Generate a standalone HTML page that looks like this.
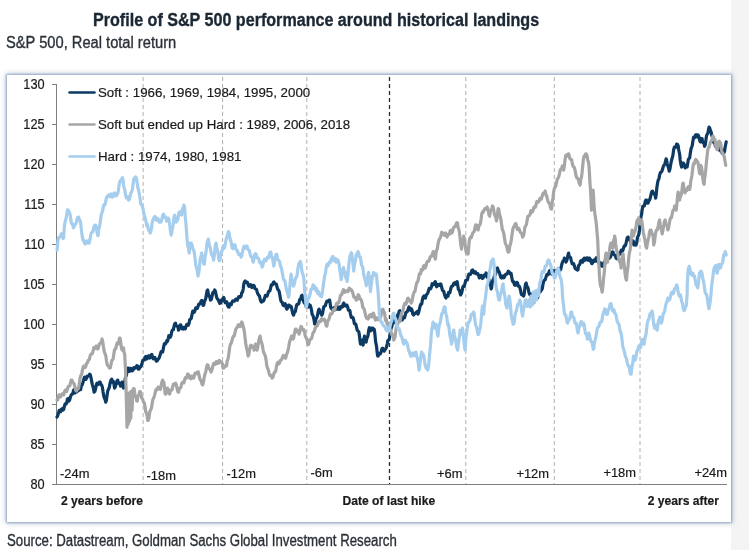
<!DOCTYPE html>
<html lang="en">
<head>
<meta charset="utf-8">
<title>Profile of S&amp;P 500 performance around historical landings</title>
<style>
html,body{margin:0;padding:0;}
body{width:749px;height:550px;position:relative;overflow:hidden;background:#fff;font-family:"Liberation Sans",sans-serif;}
.strip{position:absolute;left:731px;top:0;width:18px;height:550px;background:#f4f4f4;}
.title{position:absolute;left:93px;top:8.5px;width:447px;height:22px;white-space:nowrap;font-weight:bold;font-size:17.5px;line-height:22px;color:#1b2733;-webkit-text-stroke:0.35px #1b2733;}
.title span{display:inline-block;transform-origin:0 50%;transform:scaleX(0.92);}
.sub{position:absolute;left:6.2px;top:32.7px;white-space:nowrap;font-size:16px;line-height:20px;color:#2b3138;-webkit-text-stroke:0.35px #2b3138;}
.sub span{display:inline-block;transform-origin:0 50%;transform:scaleX(0.917);}
.src span{display:inline-block;transform-origin:0 50%;transform:scaleX(0.827);}
.src{position:absolute;left:6.5px;top:530.8px;white-space:nowrap;font-size:16px;line-height:20px;color:#2b3138;-webkit-text-stroke:0.35px #2b3138;}
.box{position:absolute;left:7.2px;top:75.4px;width:723.8px;height:446.2px;background:#fff;box-shadow:0 0 2px 1px rgba(105,130,168,0.62),0 0 6px 1px rgba(105,130,168,0.4);}
svg{position:absolute;left:0;top:0;}
#series{filter:blur(0.3px);}
svg text{font-family:"Liberation Sans",sans-serif;font-size:13.3px;fill:#1a1a1a;stroke:#1a1a1a;stroke-width:0.2px;}
#xbold text{font-size:12.1px;}
#xlab text{font-size:12.9px;}
#ylab text{font-size:14.2px;}
</style>
</head>
<body>
<div class="strip"></div>
<div class="title"><span id="t1">Profile of S&amp;P 500 performance around historical landings</span></div>
<div class="sub"><span id="t2">S&amp;P 500, Real total return</span></div>
<div class="box"></div>
<svg width="749" height="550" viewBox="0 0 749 550">
<g stroke="#b0b0b0" stroke-width="1" stroke-dasharray="4 3" fill="none">
<line x1="143.1" y1="77" x2="143.1" y2="484"/>
<line x1="222.6" y1="77" x2="222.6" y2="484"/>
<line x1="306.8" y1="77" x2="306.8" y2="484"/>
<line x1="465.8" y1="77" x2="465.8" y2="484"/>
<line x1="554.3" y1="77" x2="554.3" y2="484"/>
<line x1="640" y1="77" x2="640" y2="484"/>
</g>
<line x1="389.5" y1="77" x2="389.5" y2="484" stroke="#2a2a2a" stroke-width="1.3" stroke-dasharray="4 3"/>
<g stroke="#7f7f7f" stroke-width="1" fill="none">
<line x1="56.5" y1="84" x2="56.5" y2="485"/>
<line x1="52" y1="484.5" x2="727" y2="484.5"/>
<line x1="52" y1="84.5" x2="56.5" y2="84.5"/>
<line x1="52" y1="124.5" x2="56.5" y2="124.5"/>
<line x1="52" y1="164.5" x2="56.5" y2="164.5"/>
<line x1="52" y1="204.5" x2="56.5" y2="204.5"/>
<line x1="52" y1="244.5" x2="56.5" y2="244.5"/>
<line x1="52" y1="284.5" x2="56.5" y2="284.5"/>
<line x1="52" y1="324.5" x2="56.5" y2="324.5"/>
<line x1="52" y1="364.5" x2="56.5" y2="364.5"/>
<line x1="52" y1="404.5" x2="56.5" y2="404.5"/>
<line x1="52" y1="444.5" x2="56.5" y2="444.5"/>
<line x1="52" y1="484.5" x2="56.5" y2="484.5"/>
</g>
<g id="ylab">
<text transform="translate(44.6,89.2) scale(0.9,1)" text-anchor="end">130</text>
<text transform="translate(44.6,129.2) scale(0.9,1)" text-anchor="end">125</text>
<text transform="translate(44.6,169.2) scale(0.9,1)" text-anchor="end">120</text>
<text transform="translate(44.6,209.2) scale(0.9,1)" text-anchor="end">115</text>
<text transform="translate(44.6,249.2) scale(0.9,1)" text-anchor="end">110</text>
<text transform="translate(44.6,289.2) scale(0.9,1)" text-anchor="end">105</text>
<text transform="translate(44.6,329.2) scale(0.9,1)" text-anchor="end">100</text>
<text transform="translate(44.6,369.2) scale(0.9,1)" text-anchor="end">95</text>
<text transform="translate(44.6,409.2) scale(0.9,1)" text-anchor="end">90</text>
<text transform="translate(44.6,449.2) scale(0.9,1)" text-anchor="end">85</text>
<text transform="translate(44.6,489.2) scale(0.9,1)" text-anchor="end">80</text>
</g>
<g id="xlab">
<text x="60" y="477.5">-24m</text>
<text x="146.5" y="479.5">-18m</text>
<text x="226.5" y="477.5">-12m</text>
<text x="310.5" y="476.8">-6m</text>
<text x="462.5" y="477.5" text-anchor="end">+6m</text>
<text x="549" y="477.5" text-anchor="end">+12m</text>
<text x="636" y="476.8" text-anchor="end">+18m</text>
<text x="727" y="476.8" text-anchor="end">+24m</text>
</g>
<g id="xbold" font-weight="bold">
<text x="61" y="504.8">2 years before</text>
<text x="388.8" y="504.8" text-anchor="middle">Date of last hike</text>
<text x="719" y="504.8" text-anchor="end">2 years after</text>
</g>
<g id="series" fill="none" stroke-width="3.2" stroke-linejoin="round" stroke-linecap="round">
<path id="navy" stroke="#0d3a63" d="M57,417.1 L57.7,415.8 L58.4,413.1 L59.2,410.4 L60,411.1 L60.7,411.7 L61.4,409.1 L62.2,408.7 L63,410.1 L63.7,409.3 L64.4,406.1 L65.2,403.9 L66,404.1 L66.7,403 L67.4,399.1 L68.2,398.5 L69,401.1 L69.7,399.8 L70.4,397.1 L71.2,395 L72,394.1 L72.8,393.8 L73.6,390.1 L74.3,389.6 L74.9,393 L75.6,392.1 L76.3,390.9 L76.9,391.9 L77.6,390.1 L78.2,388.3 L78.8,390.5 L79.4,387.5 L80,389.1 L80.7,389.5 L81.3,385.8 L82,385.1 L82.8,383.2 L83.6,380.1 L84.3,377.3 L85,377.1 L85.8,379.4 L86.6,378.1 L87.3,376 L88.1,376.1 L88.9,376 L89.7,374.1 L90.4,375 L91.1,378.1 L91.8,382.2 L92.5,385.1 L93.3,387.7 L94.1,392.1 L94.9,391.3 L95.7,388.1 L96.4,384.4 L97.1,383.1 L97.9,384.5 L98.7,384.1 L99.4,382.2 L100.1,382.1 L100.9,384.5 L101.7,385.1 L102.4,387.4 L103.1,392.1 L103.8,396.1 L104.5,398.1 L105.1,399.5 L105.7,402.1 L106.4,400.3 L107.1,395.1 L107.8,390.8 L108.5,389.1 L109.3,387.5 L110.1,383.1 L110.9,380.3 L111.7,379.1 L112.4,382 L113.1,381.1 L113.8,382.9 L114.5,388.1 L115.3,386.8 L116.1,384.1 L116.9,381.1 L117.7,380.1 L118.4,383.1 L119.1,383.1 L119.8,383.1 L120.5,386.1 L121.3,385.9 L122.1,382.1 L122.8,384 L123.5,388.1 L124.1,387.3 L124.7,383.1 L125.2,378.6 L125.7,377.1 L126.4,375.1 L127.1,371.1 L127.8,368.2 L128.5,368.1 L129.3,371.3 L130.1,371.1 L130.8,368.4 L131.5,369.1 L132.3,370.8 L133.1,370.1 L133.8,367.7 L134.5,368.1 L135.3,368.2 L136.1,367 L136.8,365.6 L137.5,366 L138.3,369.2 L139.1,369.1 L139.8,366.9 L140.5,367 L141.3,365.8 L142.1,363 L142.8,360.2 L143.5,360 L144.3,360 L145.1,357 L145.8,356.5 L146.5,359 L147.3,358.6 L148.1,356 L148.8,355.8 L149.5,358 L150.3,357.7 L151.1,355 L151.8,354.4 L152.5,357 L153.3,358.8 L154.1,358 L154.8,357.4 L155.5,359 L156.3,361.2 L157.1,361 L157.8,359.4 L158.5,359 L159.3,357.6 L160.1,355 L160.4,354.1 L161.2,351.6 L162,352.1 L162.7,352 L163.4,348.1 L164.2,344.2 L165,343.1 L165.7,343.7 L166.4,342.1 L167,340.3 L167.5,341.3 L168.1,339.1 L168.8,335.7 L169.5,336.1 L170.3,337.2 L171.1,335.1 L171.8,331.3 L172.5,330.1 L173.3,329.8 L174.1,326.1 L174.8,323.7 L175.5,323.1 L176.3,325.9 L177.1,326.1 L177.8,326.3 L178.5,330.1 L179.3,328.9 L180.1,325.1 L180.8,324.9 L181.5,327.1 L182.3,329 L183.1,329.1 L183.8,327.3 L184.5,328.1 L185.3,328.9 L186.1,326.1 L186.8,324.5 L187.5,324.1 L188.3,325.2 L189.1,323.1 L189.8,319.4 L190.5,319.1 L191.3,318.3 L192.1,314.1 L192.8,311 L193.5,311.1 L194.3,312.2 L195.1,310.1 L195.8,307.8 L196.5,308.1 L197.3,308.4 L198.1,306.1 L198.8,304 L199.5,304.1 L200.3,303.2 L201.1,301.1 L201.8,300.4 L202.5,303.1 L203.1,305.4 L203.7,305.1 L204.4,301.8 L205.1,300.1 L205.8,298.3 L206.5,294 L207.1,290.8 L207.7,290 L208.4,294 L209.1,296 L209.8,297 L210.5,300.1 L211.3,299.3 L212.1,296 L212.8,292.6 L213.5,292 L214.1,292.4 L214.7,290 L215.4,291.3 L216.1,295 L216.8,297.7 L217.5,299.1 L218.3,299.7 L219.1,302.1 L219.8,303.4 L220.5,303.1 L221.1,300.3 L221.7,300.1 L222.4,300.8 L223.1,298.1 L223.8,297.5 L224.5,300.1 L225.3,302.7 L226.1,302.1 L226.8,301.9 L227.5,305.1 L228.3,307 L229.1,307.1 L229.8,303.9 L230.5,304.1 L231.3,304.6 L232.1,302.1 L232.8,300.9 L233.5,301.1 L234.3,301.2 L235.1,300.1 L235.8,299 L236.5,299.1 L237.3,300.2 L238.1,298.1 L238.8,296.6 L239.5,297 L240.3,297.2 L241.1,296 L241.8,292.6 L242.6,292 L243.2,289 L243.8,284 L244.5,281.8 L245.2,281 L245.9,282.3 L246.6,282 L247.4,282.2 L248.2,285 L248.9,286.3 L249.6,286 L250.4,284.6 L251.2,285 L251.9,287.5 L252.6,287 L253.4,285.3 L254.2,286 L254.9,288.5 L255.6,289 L256.4,289.3 L257.2,292 L257.9,294.1 L258.6,295 L259.4,296 L260.2,299.1 L260.9,301.7 L261.6,302.1 L262.4,300.8 L263.2,301.1 L263.9,300.3 L264.6,298.1 L265.4,295.3 L266.2,296 L267,296.2 L267.8,294 L268.5,291.7 L269.2,291 L269.9,290.9 L270.6,288 L271.3,284.8 L272,285 L272.7,284.6 L273.3,282.4 L274,282 L274.8,283.8 L275.6,284 L276.3,284 L277,287 L277.7,289.3 L278.4,290 L279.2,291.5 L280,296 L280.8,300.5 L281.6,302.1 L282.3,302.3 L283,305.1 L283.7,305.5 L284.4,304.1 L285.2,303.7 L286,307.1 L286.8,309.2 L287.6,308.1 L288.3,305.3 L289,305.1 L289.8,306.5 L290.6,306.1 L291.3,306.7 L292,310.1 L292.8,313.7 L293.6,315.1 L294.3,312.3 L295,312.1 L295.5,311.1 L296,308.1 L296.7,304.7 L297.4,304.1 L298.2,304.2 L299,303.1 L299.5,300.1 L300,299.1 L300.7,299.4 L301.4,296 L302.2,295.3 L303,298.1 L303.7,301.6 L304.4,303.1 L305.2,302.9 L306,306.1 L306.7,306.9 L307.4,303.9 L308.1,307.2 L308.7,304.3 L309.4,306.2 L310.1,305.1 L310.8,307 L311.5,310.1 L312.1,314.3 L312.7,315.1 L313.4,317 L314.1,320.1 L314.6,323.8 L315.1,324.1 L315.8,319.3 L316.5,318.1 L317.3,316.4 L318.1,312.1 L318.6,309.8 L319.1,309.1 L319.8,312.8 L320.5,313.1 L321.1,312.2 L321.7,315.1 L322.4,314.1 L323.1,310.1 L323.8,306.9 L324.5,306.1 L325.3,305.7 L326.1,303.1 L326.9,301.1 L327.7,301.1 L328.4,301.4 L329.1,300.1 L329.6,300.1 L330.1,303.1 L330.6,306.7 L331.1,308.1 L331.8,308.3 L332.5,310.1 L333.1,310.5 L333.7,308 L334.3,310.1 L334.9,307.5 L335.5,309.4 L336.1,308.1 L336.8,306 L337.4,309.2 L338.1,307.1 L338.8,307.2 L339.4,309.3 L340.1,309.1 L340.9,306.6 L341.7,306.1 L342.4,307 L343.1,304.1 L343.8,303 L344.5,305.1 L345.3,306.1 L346.1,305.1 L346.9,305.2 L347.7,307.1 L348.4,310.1 L349.1,310.1 L349.8,310.4 L350.5,314.1 L351.3,317.4 L352.1,317.1 L352.9,317.6 L353.7,320.1 L354.4,323.8 L355.1,324.1 L355.8,324.1 L356.5,327.1 L357.3,330.3 L358.1,331.1 L358.8,331.7 L359.5,336.1 L360,341 L360.5,344.1 L361.3,340.6 L362.1,340.1 L362.6,343.3 L363.1,345.1 L363.8,339.8 L364.5,336.1 L365.3,340.9 L366.1,342.1 L366.8,338.7 L367.5,337.1 L368.1,335.2 L368.7,330.1 L369.4,327.7 L370.1,328.1 L370.8,330.8 L371.5,330.1 L372.1,328 L372.7,328.1 L373.4,329.6 L374.1,329.1 L374.6,331.6 L375.1,336.1 L375.6,341.8 L376.1,344.1 L376.6,346.7 L377.1,352.1 L377.6,355.9 L378.1,356.1 L378.8,353.3 L379.5,354.1 L380.3,353.9 L381.1,352.1 L381.9,348.8 L382.6,348.1 L383.4,350.3 L384.2,351.1 L384.9,349.5 L385.6,349.1 L386.4,347.3 L387.2,344.1 L387.9,340.4 L388.6,340.1 L389.2,339.7 L389.8,336.1 L390.5,330.4 L391.2,328.1 L391.9,326.1 L392.6,322.1 L393.4,319.7 L394.2,320.1 L394.9,322.7 L395.6,322.1 L396.2,319 L396.9,319.4 L397.6,315.2 L398.2,314.1 L398.7,313.3 L399.2,311.1 L399.9,310.7 L400.6,312.1 L401.4,317.9 L402.2,320.1 L403,317.3 L403.8,317.1 L404.5,317.9 L405.2,315.1 L405.9,312.4 L406.6,312.1 L407.4,311.5 L408.2,309.1 L408.9,307 L409.6,308.1 L410,308.1 L410.7,310.4 L411.3,308.8 L412,310.1 L412.8,314.1 L413.6,315.1 L414.3,313.4 L415,313.1 L415.7,313.3 L416.4,312.1 L417.2,311.4 L418,314.1 L418.7,312.2 L419.4,309.1 L420.2,305.7 L421,304 L421.7,303.9 L422.4,300 L423.2,296.9 L424,296 L424.7,297.7 L425.4,298 L426.2,295.2 L427,294 L427.7,293.4 L428.4,291 L429.2,288.4 L430,289 L430.7,288.7 L431.4,287 L432.2,283.7 L433,284 L433.7,284.6 L434.4,283 L435.2,281.6 L436,284 L436.7,286.8 L437.4,286 L438.2,284.5 L439,285 L439.7,285.4 L440.4,284 L441,284.3 L441.6,287 L442.3,289.7 L443,291 L443.7,291.1 L444.4,294 L445.2,296.6 L446,298 L446.7,295.9 L447.4,295 L448,296.2 L448.5,292.7 L449.1,293 L449.8,292.9 L450.5,290 L451.3,286.8 L452.1,286 L452.8,286 L453.5,284 L454.3,282.8 L455.1,283 L455.8,284.3 L456.5,282 L457.1,281.6 L457.7,285 L458.4,289.4 L459.1,290 L459.8,291.8 L460.5,295 L461.3,293.9 L462.1,291 L462.8,287.1 L463.5,286 L464.3,286.4 L465.1,283 L465.8,280.2 L466.5,280 L467.3,280 L468.1,277 L468.8,274 L469.5,274 L470.3,274.4 L471.1,273 L471.9,270.2 L472.7,270 L473.4,272.5 L474.1,273 L474.8,271.6 L475.5,272 L476.3,273.7 L477.1,274 L477.8,273.6 L478.5,275 L479.3,277.9 L480.1,277 L480.8,275.3 L481.5,276 L482.3,278.4 L483.1,278 L483.8,275.1 L484.5,275 L485.3,275.8 L486.1,273 L486.8,273.6 L487.4,277.3 L488.1,278 L488.8,279.3 L489.4,283.7 L490.1,285 L490.6,285.3 L491.1,289 L491.6,287.8 L492.1,283 L492.8,280 L493.4,280 L494.1,277 L494.8,274 L495.4,275 L496.1,272 L496.8,268.6 L497.5,268 L498.1,270.4 L498.7,271 L499.4,272.4 L500.1,275 L500.8,277.4 L501.5,278 L502.3,276.3 L503.1,276 L503.8,277.8 L504.5,277 L505.3,274.8 L506.1,274 L506.8,274.2 L507.5,273 L508.3,271.1 L509.1,272 L509.8,273.5 L510.5,273 L511.1,273.4 L511.7,277 L512.4,280.7 L513.1,282 L513.8,281.8 L514.5,285 L515.3,285.3 L516.1,284 L516.8,282.3 L517.5,283 L518.3,286.1 L519.1,286 L519.8,287.3 L520.5,290 L521.3,294.3 L522.1,295 L522.9,294.7 L523.6,296 L524.2,294.1 L524.8,289 L525.5,284.1 L526.2,283 L526.9,286.7 L527.6,287 L528.2,288.5 L528.8,292 L529.5,294.2 L530.2,295 L530.9,294.1 L531.5,297.5 L532.2,295 L532.9,298.1 L533.5,295.9 L534.2,297 L534.9,298.6 L535.5,296.1 L536.2,297.5 L536.9,294.6 L537.5,297.8 L538.2,296 L539,291.2 L539.8,290 L540.4,291.7 L541,288.5 L541.6,290.1 L542.3,288.6 L543,284.1 L543.7,281.3 L544.4,280.1 L545.2,279.7 L546,277.1 L546.7,274.8 L547.4,274.1 L548.2,274.6 L549,272.1 L549.6,270.6 L550.2,273 L550.9,271.4 L551.5,274 L552.1,270.5 L552.8,273.4 L553.4,270.8 L554,272.1 L554.7,273.6 L555.3,270.5 L556,272.5 L556.7,270.2 L557.3,271.9 L558,270.2 L558.7,272 L559.3,269.2 L560,270.1 L560.7,269.4 L561.4,266.1 L562.2,262.9 L563,261.1 L563.7,260.6 L564.4,258.1 L565.2,259.3 L566,262.1 L566.7,260.8 L567.4,258.1 L568,254.7 L568.6,253.1 L569.3,256.8 L570,257.1 L570.7,258 L571.4,261.1 L572.2,263.7 L573,264.1 L573.7,263.7 L574.4,266.1 L575.2,268.5 L576,269.1 L576.7,269 L577.4,270.1 L578,269.7 L578.5,265.5 L579.1,265.1 L579.8,264.5 L580.5,261.1 L581.3,260.4 L582.1,262.1 L582.8,262.1 L583.5,259.1 L584.3,258.1 L585.1,260.1 L585.8,260 L586.5,258.1 L587.3,257.9 L588.1,260.1 L588.8,260.3 L589.5,258.1 L590.3,259.2 L591.1,262.1 L591.8,263.7 L592.5,263.1 L593.3,260.3 L594.1,260.1 L594.8,261.4 L595.5,259.1 L596.3,257.8 L597.1,260.1 L597.7,261.8 L598.4,260.2 L599,263 L599.6,262.4 L600.2,265.1 L600.9,262.9 L601.5,266.1 L602.1,266.1 L602.8,263.6 L603.4,266.1 L604.1,262.4 L604.8,264 L605.4,260 L606.1,261.8 L606.8,258.4 L607.4,260.5 L608.1,258.1 L608.7,256 L609.4,258.3 L610,254.1 L610.6,256.9 L611.2,253 L611.9,254.4 L612.5,251.9 L613.1,252.1 L613.8,254.5 L614.5,255.1 L615.3,255.3 L616.1,258.1 L616.9,258.7 L617.7,256.1 L618.4,254 L619.1,253.1 L619.8,254.1 L620.5,252.1 L621.3,250.1 L622.1,251.1 L622.8,250.6 L623.5,248.1 L624.3,245.8 L625.1,246 L625.8,244.3 L626.5,241 L627.3,237.5 L628.1,237 L628.8,239.1 L629.5,240 L630.1,238.6 L630.8,242.6 L631.5,240.1 L632.1,242 L632.7,243.3 L633.3,241 L633.9,245 L634.5,242.8 L635.1,244 L635.9,245.1 L636.7,243 L637.4,237.8 L638.1,236 L638.8,234.4 L639.5,230 L640.3,221.5 L641.1,216.1 L641.6,214.3 L642.1,210.1 L642.8,206.3 L643.5,206.1 L644.3,206 L645.1,202.1 L645.8,200 L646.5,200.1 L647.3,203.2 L648.1,203.1 L648.8,200.5 L649.5,200.1 L650.3,197.9 L651.1,194.1 L651.9,191.6 L652.6,191.1 L653.4,193.3 L654.2,194.1 L654.9,194.3 L655.6,198.1 L656.2,194.9 L656.8,188.1 L657.5,183.4 L658.2,180.1 L658.9,179 L659.6,175.1 L660.4,172.5 L661.2,172.1 L661.9,171.3 L662.6,169.1 L663.4,166.1 L664.2,165 L664.9,163.9 L665.6,161 L666.1,158.9 L666.6,160 L667.2,163.6 L667.8,166 L668.5,167.7 L669.2,171.1 L669.9,169.2 L670.6,165 L671.4,160.9 L672.2,158 L672.9,155.4 L673.6,150 L674.4,147.1 L675.2,147 L675.9,147.2 L676.6,144 L677.4,144.2 L678.2,146 L678.7,149.9 L679.2,152 L679.7,154.7 L680.2,160 L680.9,164.4 L681.6,167 L682.4,163.7 L683.2,163 L683.9,163.5 L684.6,166.6 L685.3,167.9 L685.9,166 L686.5,167 L687.1,166.9 L687.7,163.5 L688.4,159.3 L689.1,158.4 L689.7,157.7 L690.3,153.2 L691,148.9 L691.7,147.1 L692.3,145.3 L692.9,141.1 L693.6,137.2 L694.3,136.8 L694.9,137.5 L695.5,135 L696.1,134.6 L696.8,136.8 L697.5,137 L698.1,135 L698.8,136.3 L699.4,139.4 L700,141.4 L700.6,141.9 L701.3,138.6 L702,138.5 L702.6,141.4 L703.2,142.8 L703.9,143 L704.6,146.3 L705.2,145 L705.8,141.1 L706.5,135.8 L707.2,134.2 L707.8,133.6 L708.4,129.9 L709.1,127.1 L709.8,128.1 L710.4,130.6 L711,131.6 L711.9,135.9 L712.6,137 L713.4,141.8 L714.1,142.8 L714.8,142.9 L715.4,146.2 L716.1,145 L716.7,147.1 L717.4,148.9 L718.1,147.6 L718.8,149.8 L719.5,148 L720.2,149.7 L720.9,151.3 L721.5,149.9 L722.1,153.3 L722.8,152.3 L723.4,150.5 L723.9,152.9 L724.5,151.4 L725.3,146.3 L726.2,141.9"/>
<path id="gray" stroke="#a6a6a6" d="M57,400.1 L57.7,399.9 L58.4,396.1 L59.2,394.8 L60,397.1 L60.7,396.7 L61.4,395.1 L62.2,393.9 L63,394.1 L63.7,394.8 L64.4,392.1 L65.2,390.1 L66,391.1 L66.7,391.6 L67.4,389.1 L68.2,386.6 L69,386.1 L69.7,386 L70.4,383.1 L71.2,380.2 L72,380.1 L72.8,382.9 L73.6,383.1 L74.3,384.3 L75,387.1 L75.7,390.2 L76.4,391.1 L77.2,389 L78,389.1 L78.7,387.6 L79.4,383.1 L80.2,377.2 L81,375.1 L81.7,374.4 L82.4,370.1 L83.2,366.8 L84,366 L84.8,367.7 L85.6,367 L86.3,364.1 L87,363 L87.6,362.6 L88.1,360.4 L88.7,360 L89.4,359.2 L90.1,356 L90.9,354 L91.7,354 L92.4,353.6 L93.1,351 L93.8,347.7 L94.5,348 L95.3,348.3 L96.1,346 L96.9,346.2 L97.7,349 L98.4,347.9 L99.1,345 L99.8,343.4 L100.5,343 L101.3,342 L102.1,339 L102.8,342.2 L103.5,347 L104.3,351.7 L105.1,354 L105.8,355.6 L106.5,361 L107.3,365 L108.1,366 L108.8,366.2 L109.5,368.1 L110.3,367.8 L111.1,364 L111.8,360.4 L112.5,360 L113.1,359 L113.7,355 L114.4,350.2 L115.1,349 L115.8,348.6 L116.5,345 L117.3,342.9 L118.1,344 L118.8,342 L119.5,338 L120.1,338.1 L120.7,342 L121.4,347.8 L122.1,350 L122.8,348.2 L123.5,348 L124.1,352.6 L124.7,354 L125.5,370.1 L126.1,390.1 L126.6,410.1 L127,427.1 L127.6,395.1 L128.2,424.1 L128.8,393.1 L129.5,421.1 L130.1,392.1 L130.8,418.1 L131.4,391.1 L132.1,410.1 L132.7,392.1 L133.5,388.5 L134.1,388.8 L134.6,392.1 L135.1,395.8 L135.6,397.1 L136.2,397.2 L136.7,401 L137.3,401.1 L137.9,396.3 L138.6,395.1 L139.1,394.5 L139.7,391.5 L140.4,391.6 L141.1,395.1 L141.8,398.1 L142.6,399.1 L143.5,402.1 L144.3,402.9 L145.1,407.1 L145.8,411.9 L146.5,413.1 L147.1,415.6 L147.7,420.5 L148.4,420.1 L149.1,417.1 L149.8,411.8 L150.5,410.1 L151.3,408.6 L152.1,404.1 L152.8,399.9 L153.5,398.1 L154.3,396.5 L155.1,393.1 L155.8,390.1 L156.5,389.1 L157.3,389.6 L158.1,387.1 L158.9,387.3 L159.7,389.1 L160.4,389.4 L161.1,386.1 L161.8,382.2 L162.6,380.1 L163.2,382.9 L163.8,382.1 L164.5,387.1 L165.2,394.1 L165.9,393.9 L166.6,390.1 L167.4,388.1 L168.2,389.1 L168.9,392.8 L169.6,394.1 L170.4,390.8 L171.2,390.1 L171.9,390 L172.6,387.1 L173.4,384.2 L174.2,384.1 L174.9,384.6 L175.6,383.1 L176.4,385.3 L177.2,389.1 L177.9,391.9 L178.6,392.1 L179.4,388.3 L180.2,388.1 L180.9,387.5 L181.6,384.1 L182.4,382.4 L183.2,382.1 L183.9,382.8 L184.6,380.1 L185.4,377.6 L186.2,378.1 L186.9,377.9 L187.6,374.1 L188.4,374.3 L189.2,376.1 L190,378.1 L190.8,378.7 L191.6,376.1 L192.3,376.5 L193,378.1 L193.7,378 L194.4,375.1 L195.2,373.2 L196,373.1 L196.8,373.5 L197.6,372.1 L198.3,371.9 L199,375.1 L199.7,378.3 L200.4,380.1 L201.2,380.8 L202,384.1 L202.7,384.8 L203.4,382.1 L204.2,377.2 L205,374.1 L205.7,371.9 L206.4,368.1 L207.2,364.9 L208,365.1 L208.7,368.2 L209.4,369.1 L210.2,369.1 L211,372.1 L211.7,370.7 L212.4,368.1 L213.2,364.5 L214,363.1 L214.8,364.4 L215.6,364.1 L216.3,361.6 L217,362.1 L217.8,363.3 L218.6,363.1 L219.3,360.3 L220,361.1 L220.8,362.2 L221.6,362.1 L222.3,363.6 L223,368.1 L223.7,368.2 L224.4,367.1 L225.2,365.7 L226,366.1 L226.6,365.8 L227.1,361.3 L227.7,360.1 L228.4,356.9 L229.1,352.1 L229.8,346.6 L230.5,344.1 L231.3,343.2 L232.1,340.1 L232.8,337.5 L233.5,336.1 L234.3,336 L235.1,332.1 L235.8,329.3 L236.5,328.1 L237.3,327.2 L238.1,325.1 L238.8,324.6 L239.5,326.1 L240.3,326.5 L241.1,324.1 L241.8,322 L242.5,323.1 L243.1,326.3 L243.7,328.1 L244.4,332.1 L245.1,338.1 L245.8,343.7 L246.5,348.1 L247.3,350.9 L248.1,356.1 L248.8,354.7 L249.5,350.1 L250.3,346 L251.1,345.1 L251.8,347.4 L252.5,346.1 L253.3,346.5 L254.1,350.1 L254.8,348.8 L255.5,344.1 L256.3,345.6 L257.1,350.1 L257.8,347.3 L258.5,342.1 L259.3,338.2 L260.1,336.1 L260.8,340.5 L261.5,342.1 L262.3,345.1 L263.1,350.1 L263.8,352.8 L264.5,354.1 L265.3,355.9 L266.1,360.1 L266.8,365.8 L267.5,368.1 L268.3,369.9 L269.1,373.1 L269.8,375.4 L270.5,375.1 L271.3,375.5 L272.1,378.1 L272.9,377.4 L273.7,374.1 L274.4,372.3 L275.1,372.1 L275.8,370.9 L276.5,366.1 L277.3,363.2 L278.1,362.1 L278.8,364 L279.5,363.1 L280.3,360.5 L281.1,360.1 L281.8,359.2 L282.5,357.1 L283.3,355.3 L284.1,356.1 L284.9,357.9 L285.7,358.1 L286.4,355 L287.1,353.1 L287.8,351.2 L288.5,348.1 L289.3,343.3 L290.1,340.1 L290.8,338.8 L291.5,336.1 L292.3,336.2 L293.1,339.1 L293.8,337.3 L294.5,333.1 L295.3,329.2 L296.1,329.1 L296.8,331.9 L297.5,331.1 L298.3,330.7 L299.1,334.1 L299.8,332 L300.5,328.1 L301.1,326.4 L301.7,327.1 L302.4,329.5 L303.2,330.1 L303.9,329.7 L304.6,332.1 L305.4,336.5 L306.2,338.1 L307,339.5 L307.8,344.1 L308.5,344.6 L309.2,342.1 L309.9,339.7 L310.6,339.1 L311.4,338.7 L312.2,336.1 L313,332.8 L313.8,332.1 L314.5,330.7 L315.2,328.1 L315.9,326.5 L316.6,326.1 L317.4,325.7 L318.2,323.1 L318.9,321.4 L319.6,321.1 L320.4,321.6 L321.2,319.1 L321.9,318.7 L322.6,320.1 L323.4,320.3 L324.2,319.1 L324.9,320.3 L325.6,323.1 L326.2,325.5 L326.8,326.1 L327.5,322.2 L328.2,320.1 L329,319.3 L329.8,316 L330.5,313.8 L331.2,314 L331.9,314 L332.6,312 L333.4,309.6 L334.2,310 L334.9,309.4 L335.6,307 L336.4,303.7 L337.2,304 L338.1,302.1 L338.9,302.5 L339.7,299.1 L340.4,295.5 L341.1,295 L341.8,294.6 L342.5,292 L343.3,289.7 L344.1,290 L344.8,292.3 L345.5,292 L346.3,290.9 L347.1,291 L347.8,291.6 L348.5,290 L349.3,288.2 L350.1,289 L350.8,290.3 L351.5,290 L352.3,291.3 L353.1,294 L353.8,297.1 L354.5,297 L355.3,297.5 L356.1,300.1 L356.8,299.8 L357.5,297 L358.3,294.7 L359.1,296 L359.8,298.9 L360.5,299.1 L361.3,300.1 L362.1,303.1 L362.8,307.5 L363.5,308.1 L364.3,309.5 L365.1,313.1 L365.8,316.2 L366.5,318.1 L367.3,317.1 L368.1,319.1 L368.8,317.8 L369.5,315.1 L370.3,314.6 L371.1,316.1 L371.8,316.8 L372.5,314.1 L373.3,313.1 L374.1,315.1 L374.8,318.2 L375.5,320.1 L376.3,317.9 L377.1,318.1 L377.8,319.7 L378.5,319.1 L379.3,317.4 L380.1,318.1 L380.8,316.4 L381.5,313.1 L382.1,309.7 L382.8,309.1 L383.5,311.3 L384.2,312.1 L384.7,314.2 L385.2,318.1 L385.8,320.8 L386.4,319.5 L387,323.6 L387.6,322.9 L388.2,326.1 L388.9,328.3 L389.5,327.4 L390.2,331.2 L390.9,330.2 L391.5,334.3 L392.2,334.1 L393,336 L393.8,340.1 L394.5,338.8 L395.2,336.1 L395.7,331.4 L396.2,328.1 L396.9,326.8 L397.6,324.1 L398.4,321.4 L399.2,322.1 L399.9,321.5 L400.6,318.1 L401.4,313.3 L402.2,312.1 L403,310.6 L403.8,306.1 L404.5,304 L405.2,303.1 L406,304 L406.8,302.1 L407.5,298.5 L408.2,298.1 L409,300.6 L409.8,300.1 L410.5,300.4 L411.2,303.1 L411.9,301.6 L412.6,298.1 L413.4,293.9 L414.2,292 L414.9,291.6 L415.6,288 L416.4,284.1 L417.2,282 L417.9,281.3 L418.6,278 L419.3,274.3 L420,273.1 L420.7,273.9 L421.3,269.5 L422,270.1 L422.8,269.9 L423.6,266.1 L424.3,265.4 L425,268.1 L425.7,267.1 L426.4,264.1 L427.2,261.7 L428,261.1 L428.8,261.3 L429.6,259.1 L430.3,256.7 L431,256.1 L431.7,256.2 L432.4,254.1 L433.2,251.6 L434,252.1 L434.7,257.4 L435.4,259.1 L436,253.3 L436.6,250.1 L437.3,248.8 L438,244.1 L438.7,240.9 L439.4,239.1 L440.2,238.1 L441,235.1 L441.7,232.2 L442.4,233.1 L443.2,234.9 L444,235.1 L444.8,233 L445.6,233.1 L446.3,235.8 L447,237.1 L447.8,234.9 L448.5,234.1 L449.3,234.4 L450.1,231.1 L450.8,230.2 L451.5,233.1 L452.3,232.5 L453.1,229.1 L453.8,227.3 L454.5,227 L455.3,226.5 L456.1,224 L456.8,222.6 L457.5,223 L458.1,227.5 L458.7,229.1 L459.4,232.1 L460.1,238.1 L460.8,244.8 L461.5,249.1 L462.1,244.3 L462.7,242.1 L463.2,239.8 L463.7,236.1 L464.4,238.8 L465.1,244.1 L465.8,250.4 L466.5,253.1 L467.3,252 L468.1,254.1 L468.6,248.8 L469.1,242.1 L469.8,238.3 L470.5,237.1 L471.3,237.6 L472.1,235.1 L472.8,232.7 L473.5,232.1 L474.3,231.3 L475.1,227 L475.8,224.8 L476.5,225 L477.3,229.1 L478.1,230.1 L478.8,226.4 L479.5,225 L480.3,223.9 L481.1,219 L481.8,213.9 L482.5,212 L483.3,212.3 L484.1,210 L484.8,208.7 L485.5,209 L486.3,209.2 L487.1,207 L487.8,208.9 L488.5,212 L489.1,215.4 L489.7,216 L490.4,211.3 L491.1,210 L491.8,208.8 L492.5,206 L493.1,206.8 L493.7,210 L494.4,214.2 L495.1,216 L495.8,217.4 L496.5,221 L497.1,218 L497.7,212 L498.2,208.7 L498.7,209 L499.4,214 L500.1,216 L500.8,218.8 L501.5,224 L502.3,229.4 L503.1,231.1 L503.8,233.6 L504.5,238.1 L505.3,243.2 L506.1,245.1 L506.8,246.2 L507.5,250.1 L508.3,252.2 L509.1,251.1 L509.8,245.9 L510.5,244.1 L511.3,240 L512.1,234.1 L512.8,229.2 L513.5,227 L514.3,226.6 L515.1,224 L515.8,223.5 L516.5,226 L517.3,229.4 L518.1,229.1 L518.8,228.2 L519.5,230.1 L520.3,232.2 L521.1,233.1 L521.9,233.9 L522.6,237.1 L523.4,236.1 L524.2,232.1 L524.9,227.3 L525.6,226 L526.4,224.4 L527.2,220 L527.9,216.3 L528.6,216 L529.4,215.6 L530.2,214 L530.9,210.7 L531.6,211 L532.4,212 L533.2,210 L533.9,207.1 L534.6,207 L535.4,207.3 L536.2,204 L536.9,201.3 L537.6,202 L538.4,202.2 L539.2,201 L539.9,198.3 L540.6,199 L541.4,199.1 L542.2,196 L542.9,193.7 L543.6,193 L544.4,193.6 L545.2,191 L546,195.1 L546.7,195.8 L547.4,199.1 L548.2,201.9 L549,203.1 L549.7,203.5 L550.4,207.1 L551,208.9 L551.6,209.1 L552.1,203.2 L552.6,200.1 L553.1,197.2 L553.6,192.1 L554.3,188.7 L555,187.1 L555.7,186.4 L556.4,183.1 L557.2,179.4 L558,178.1 L558.7,176.9 L559.4,174.1 L560.2,169.7 L561,169.1 L561.7,168.2 L562.4,166 L563,167.5 L563.6,170.1 L564.3,166.3 L565,160 L565.7,155.8 L566.4,155 L567.2,155.9 L568,154 L568.7,153.9 L569.4,157 L570.2,159.2 L571,159 L571.7,160 L572.4,164 L573.2,166.5 L574,167 L574.7,168.6 L575.4,172.1 L576.2,176.3 L577,178.1 L577.8,178.5 L578.5,180.1 L579.3,183.3 L580.1,185.1 L580.8,179.5 L581.5,177.1 L582.1,172.4 L582.7,166 L583.4,159.4 L584.1,156 L584.8,156.6 L585.5,154 L586.3,153.9 L587.1,156 L587.8,160.5 L588.5,162 L589,166.4 L589.5,174.1 L590,183.8 L590.5,190.1 L591,199.4 L591.5,210.1 L592,205.9 L592.5,200.1 L593.1,190.1 L593.6,197 L594.1,206.1 L594.8,213.2 L595.5,218 L596.1,222 L596.7,228 L597.2,234.6 L597.7,240 L598.5,260.1 L599,266.8 L599.5,276.1 L600.1,283 L600.7,286.1 L601.4,288 L602.1,292.1 L602.6,289.4 L603.1,284.1 L603.6,278 L604.1,274.1 L604.6,268.3 L605.1,260.1 L605.6,254.9 L606.1,253.1 L606.8,258.6 L607.5,262.1 L608.1,256.7 L608.7,254.1 L609.4,251.3 L610.1,246 L610.8,243.2 L611.5,243 L612.1,247.3 L612.7,248.1 L613.2,243.4 L613.7,240 L614.2,239.7 L614.7,236 L615.2,239 L615.7,244 L616.4,249.5 L617.1,252.1 L617.8,253.5 L618.5,258.1 L619.3,261.5 L620.1,262.1 L620.6,264 L621.1,268.1 L621.6,264.8 L622.1,258.1 L622.6,255.4 L623.1,254.1 L623.6,260.5 L624.1,264.1 L624.6,268 L625.1,274.1 L625.8,278.4 L626.5,280.1 L627,273.4 L627.5,270.1 L628.1,265.7 L628.7,258.1 L629.4,252.7 L630.1,250.1 L630.6,246 L631.1,240 L631.6,234.1 L632.1,230 L632.8,234.2 L633.5,236 L634.1,233.1 L634.7,232 L635.4,229.9 L636.1,226 L636.8,221.2 L637.5,220 L638.1,219.7 L638.7,218 L639.4,219.3 L640.1,224 L640.8,223.1 L641.5,220 L642.1,222.9 L642.7,228 L643.4,233 L644.1,236 L644.8,239.3 L645.5,244 L646.1,247.2 L646.7,248.1 L647.4,243.3 L648.1,240 L648.8,237.2 L649.5,232 L650.3,230 L651.1,230 L651.9,233.8 L652.6,234 L653.2,237.7 L653.8,245 L654.5,241.7 L655.2,236 L655.9,231.6 L656.6,230 L657.4,229.8 L658.2,226 L658.9,222 L659.6,220 L660.2,224.7 L660.8,228 L661.5,230.1 L662.2,234 L662.9,230.8 L663.6,226 L664.4,221.5 L665.2,220 L665.9,223.6 L666.6,225 L667.2,226.5 L667.8,230 L668.5,228.6 L669.2,224 L669.9,220.1 L670.6,218 L671.4,217.6 L672.2,214 L672.9,210.6 L673.6,210 L674.1,209.2 L674.6,206.1 L675.4,206.4 L676.2,210.1 L676.7,206.1 L677.2,200.1 L677.7,194.4 L678.2,192.1 L678.9,197.9 L679.6,200.1 L680.2,196.9 L680.8,196.1 L681.5,193.6 L682.2,188.1 L682.7,183.8 L683.2,183.1 L683.9,187.7 L684.5,191.9 L685.1,192.9 L685.8,189.6 L686.5,189.4 L687.1,190.3 L687.7,187.7 L688.4,186.7 L689.1,189.4 L689.7,189.3 L690.3,186 L690.8,180.7 L691.3,179.1 L691.9,175.7 L692.5,170.4 L693.1,165.6 L693.7,163.5 L694.4,163.7 L695.1,160.9 L695.7,159.4 L696.3,160.1 L697,162 L697.7,161.8 L698.3,164.4 L698.9,168.7 L699.5,173.1 L700,173.9 L700.8,165.3 L701.4,166.8 L702,170.4 L702.9,179.1 L703.5,182.9 L704.1,184.3 L704.6,178.2 L705.1,175.6 L705.7,170.4 L706.3,163.5 L707.2,154.9 L707.8,149.6 L708.4,148 L709.1,147 L709.8,144.5 L710.4,142.2 L711,141.1 L711.7,140.4 L712.4,137.6 L713,136.2 L713.6,136.8 L714.3,139.9 L715,139.4 L715.8,146.3 L716.5,146.3 L717.1,149.7 L717.6,148.7 L718.1,144.5 L718.7,141.6 L719.3,141.1 L719.9,143.2 L720.5,142.8 L721,145.4 L721.5,149.7 L722.1,153.1 L722.8,153.2 L723.6,154.9 L724.2,156.4 L724.8,160.1 L725.7,165.3"/>
<path id="blue" stroke="#a5cdee" d="M57,250.1 L57.5,246 L58,240.1 L58.8,237.3 L59.6,237.1 L60.3,236.7 L61,234.1 L61.7,233.7 L62.4,236.1 L63,238.5 L63.6,238.1 L64.4,226.1 L65,222.4 L65.6,220.1 L66.3,217.2 L67,213.1 L67.5,209.9 L68,210.1 L68.7,212 L69.4,212.1 L70,214.2 L70.6,218.1 L71.3,223 L72,224.1 L72.7,223.9 L73.3,227.8 L74,227.1 L74.8,224.4 L75.6,224.1 L76.3,223 L77,219.1 L77.8,217.3 L78.6,217.1 L79.3,220 L80,220.1 L80.7,223.4 L81.4,230.1 L82.2,236.4 L83,240.1 L83.7,240 L84.4,243.1 L85.2,244.1 L86,242.1 L86.6,241.1 L87.1,243 L87.7,241.1 L88.4,240.7 L89.1,243.1 L89.9,240.1 L90.7,235.1 L91.4,233 L92.1,232.1 L92.9,231.8 L93.7,228.1 L94.3,225.9 L94.9,227.6 L95.5,225.1 L96.1,225.9 L96.7,230.1 L97.4,234.4 L98.1,235.7 L98.6,230.1 L99.1,228.1 L99.8,225.2 L100.5,220.1 L101.3,214.5 L102.1,212.1 L102.6,211.3 L103.1,208.1 L103.8,204.8 L104.5,205.1 L105.3,203.8 L106.1,199.1 L106.9,196.9 L107.7,196 L108.3,196.6 L108.9,194.9 L109.5,195.6 L110.3,196.7 L111.1,194 L111.8,194.3 L112.5,197 L113.3,196.4 L114.1,193 L114.9,193 L115.7,195 L116.3,195.9 L116.9,193.3 L117.5,194 L118.1,192 L118.7,188 L119.4,183.2 L120.1,181 L120.9,181.3 L121.7,179 L122.4,177.7 L123.1,180 L123.6,185.5 L124.1,188 L124.8,189.7 L125.5,195 L126.3,197.7 L127.1,197 L127.8,196.7 L128.5,200.1 L129.3,199.5 L130.1,196 L130.8,193.2 L131.5,192 L132.3,189.7 L133.1,184 L133.8,179.1 L134.5,178 L135.1,179.3 L135.7,177 L136.4,178.2 L137.1,182 L137.8,187.5 L138.5,190 L139.3,193.7 L140.1,199.1 L140.8,203.8 L141.5,205.1 L142.3,205.8 L143.1,209.1 L143.8,213.5 L144.5,216.1 L145.3,218.4 L146.1,222.1 L146.8,225.8 L147.4,224.2 L148.1,228.1 L148.8,230.5 L149.4,229.8 L150.1,233.1 L150.8,231.7 L151.5,228.1 L152.1,223.3 L152.7,220.1 L153.4,219.6 L154.1,217.1 L154.9,216.5 L155.7,219.1 L156.4,220.3 L157.1,218.1 L157.9,218.5 L158.7,220.1 L159.3,222.2 L159.9,220.8 L160.5,222.1 L161.3,221.6 L162.1,218.1 L162.8,215.1 L163.6,214.1 L164.4,217.3 L165.2,217.1 L165.9,217.2 L166.6,221.1 L167.4,220.8 L168.2,218.1 L168.9,219.2 L169.6,224.1 L170.4,230.6 L171.2,235.1 L171.9,230.9 L172.6,228.1 L173.2,224.5 L173.8,218.1 L174.3,216 L174.8,215.1 L175.5,219.4 L176.2,222.1 L176.9,220 L177.6,220.1 L178.2,218 L178.8,213.1 L179.5,211.8 L180.2,212.1 L180.9,214.2 L181.6,215.1 L182.2,209.9 L182.8,208.1 L183.3,207.6 L183.8,205.1 L184.3,205.8 L184.8,210.1 L185.3,217.9 L185.8,222.1 L186.3,228 L186.8,236.1 L187.3,242.3 L187.8,246.1 L188.5,248.3 L189.2,253.1 L190,243.1 L190.7,245.2 L191.3,243.1 L192,245.1 L192.8,248.9 L193.6,250.1 L194.3,252.7 L195,258.1 L195.8,264.9 L196.6,268.1 L197.3,270.9 L198,276.1 L198.7,273.2 L199.4,268.1 L199.9,261.6 L200.4,258.1 L201,256.5 L201.6,253.1 L202.3,255.6 L203,260.1 L203.7,264 L204.4,264.1 L205,257.8 L205.6,254.1 L206.3,249.9 L207,243.1 L207.7,240.5 L208.4,239.1 L209,243.7 L209.6,246.1 L210.3,247.8 L211,252.1 L211.7,254.7 L212.4,256.1 L213,256.7 L213.6,260.1 L214.3,255.5 L215,248.1 L215.5,245 L216,243.1 L216.7,248 L217.4,250.1 L218,252.9 L218.6,258.1 L219.3,260.6 L220,260.1 L220.7,255.1 L221.4,252.1 L222.2,250.6 L223,246.1 L223.7,245.5 L224.4,248.1 L225.2,244.7 L226,240.1 L226.6,237.4 L227.1,237.5 L227.7,234 L228.4,231.6 L229.1,233 L229.8,237.5 L230.5,240.1 L231.3,242.9 L232.1,248.1 L232.9,248.5 L233.7,246.1 L234.4,244.6 L235.1,245.1 L235.8,248.7 L236.5,250.1 L237.3,250.6 L238.1,253.1 L238.8,254.7 L239.5,254.1 L240.3,254.2 L241.1,257.1 L241.8,255.6 L242.5,252.1 L243.3,248 L244.1,246.1 L244.9,248.2 L245.7,247.1 L246.4,246 L247.1,246.1 L247.9,249.4 L248.7,250.1 L249.4,250.6 L250.1,254.1 L250.9,256.6 L251.7,257.1 L252.4,258.7 L253.1,262.1 L253.8,260.2 L254.5,255.1 L255.3,253.7 L256.1,254.1 L256.8,256.9 L257.5,258.1 L258.3,258 L259.1,260.1 L259.8,262.6 L260.5,262.1 L261.3,263.9 L262.1,267.1 L262.8,265.6 L263.5,262.1 L264.3,259.6 L265.1,259.1 L265.9,260.8 L266.7,259.1 L267.4,257.4 L268.1,258.1 L268.8,257.8 L269.5,254.1 L270.1,252.3 L270.7,252.1 L271.4,255.6 L272.1,257.1 L272.9,260.2 L273.7,266.1 L274.4,263.8 L275.1,258.1 L275.9,254.9 L276.7,254.1 L277.4,258 L278.1,260.1 L278.9,260.4 L279.7,262.1 L280.4,265.9 L281.1,267.1 L281.8,269.8 L282.5,274.1 L283.3,278.7 L284.1,280.1 L284.8,280.4 L285.5,284.1 L286.3,288.9 L287.1,292.1 L287.8,293.7 L288.5,297.1 L289.1,294.2 L289.7,288.1 L290.4,279.7 L291.1,274.1 L291.6,278.7 L292.1,280.1 L292.8,282.1 L293.5,286.1 L294.3,283.8 L295.1,280.1 L295.8,277.6 L296.5,277.1 L297.1,275.2 L297.7,270.1 L298.4,265.7 L299.1,263.1 L299.7,263.3 L300.3,261.5 L300.9,263.7 L301.5,268.1 L302.1,272.2 L302.8,274.1 L303.4,276 L304,280.1 L304.5,288.9 L305,294.1 L305.6,300.1 L306.2,307.7 L306.8,305.5 L307.4,302.1 L308,298.3 L308.7,298.1 L309.4,297.3 L310.2,293.1 L311,289.2 L311.8,289.1 L312.4,289 L313,284.9 L313.6,285.5 L314.2,288.3 L314.8,286.6 L315.4,288.5 L316,290.9 L316.6,288.6 L317.2,291.1 L317.9,293.6 L318.7,291.8 L319.4,294.1 L320.1,295.9 L320.9,294.8 L321.6,296.7 L322.4,292.3 L323.2,286.1 L324,279.9 L324.8,275.1 L325.4,273.5 L326,269.1 L326.6,265.6 L327.2,264.1 L327.9,265.9 L328.6,264.5 L329.2,262.5 L329.8,261.7 L330.5,262.2 L331.2,259.1 L332.1,257.5 L332.8,256.5 L333.4,258.5 L334,260.8 L334.6,259.5 L335.2,258.3 L335.8,260.7 L336.3,262.2 L336.8,260.1 L337.6,259.6 L338.4,261.7 L339.1,264 L339.6,268.6 L340.1,272 L340.6,274.2 L341.1,279.6 L341.7,277.1 L342.3,273 L342.9,269.3 L343.5,267.6 L344.1,271.5 L344.7,271.3 L345.3,275 L345.9,278.3 L346.5,277.4 L347.1,281.4 L347.8,276.1 L348.5,268 L349.3,260.8 L350.1,255.6 L350.7,255.9 L351.3,252.7 L351.9,253.8 L352.4,259.6 L352.9,263 L353.7,271.2 L354.3,265.5 L354.9,263 L355.5,260.3 L356.1,255.6 L356.7,254 L357.3,255.4 L357.9,251.7 L358.5,252.6 L359.1,255.6 L359.7,257 L360.3,257.1 L360.9,260.4 L361.5,265 L362.1,266 L362.7,267 L363.3,271.2 L364.1,276.8 L364.9,279 L365.6,281.7 L366.3,285.6 L366.9,283.7 L367.5,279 L368.1,274 L368.7,272.4 L369.2,277.8 L369.7,282 L370.5,291.6 L371,286.4 L371.5,283 L372.4,276 L373,275.9 L373.5,272.7 L374.1,273 L374.7,274.8 L375.3,274.4 L376,274 L376.6,276 L377.2,283.6 L377.8,288 L378.4,296.5 L379,306.1 L379.5,316.1 L380.3,319.7 L381.1,322.1 L381.9,322.4 L382.6,324.1 L383.4,325.8 L384.2,326.1 L385,326.9 L385.8,329.1 L386.5,330.5 L387.2,328.1 L387.9,327.9 L388.6,331.1 L389.2,330.3 L389.8,328.1 L390.5,323.9 L391.2,322.1 L391.9,320.1 L392.6,316.1 L393.2,313.6 L393.8,313.1 L394.5,316.6 L395.2,318.1 L395.9,319.7 L396.6,324.1 L397.4,327.5 L398.2,328.1 L399,328.6 L399.8,331.1 L400.5,334.4 L401.2,336.1 L401.9,337.1 L402.6,340.1 L403.2,342.8 L403.8,344.1 L404.5,340.8 L405.2,340.1 L405.9,342.6 L406.6,342.1 L407.4,344 L408.2,348.1 L408.8,350.8 L409.4,351.3 L410,354.1 L410.8,356.2 L411.6,356.1 L412.3,353.2 L413,353.1 L413.7,355.7 L414.4,355.1 L415.2,352.5 L416,352.1 L416.7,356.7 L417.4,358.1 L418.2,362.7 L419,370.1 L419.7,366.2 L420.4,360.1 L421,355 L421.6,352.1 L422.3,354.3 L423,354.1 L423.7,355.6 L424.4,360.1 L425.2,365.2 L426,368.1 L426.8,367.6 L427.6,370.1 L428.3,367.3 L429,362.1 L429.5,355.2 L430,350.1 L430.5,345.4 L431,338.1 L431.5,331.6 L432,328.1 L432.5,325.8 L433,322.1 L433.7,324 L434.4,328.1 L435,327.2 L435.6,324.1 L436.3,325.4 L437,330.1 L437.5,334.9 L438,336.1 L438.7,329 L439.4,324.1 L440.2,322.9 L441,318.1 L441.7,314 L442.4,313.1 L443,312 L443.6,309.1 L444.3,306.9 L445,307 L445.5,311.3 L446,314.1 L446.7,316.4 L447.4,322.1 L448,325.6 L448.5,324.3 L449.1,328.1 L449.6,333.7 L450.1,336.1 L450.8,338.6 L451.5,344.1 L452.1,341.6 L452.7,336.1 L453.2,331.8 L453.7,330.1 L454.4,334.8 L455.1,338.1 L455.8,340.7 L456.5,346.1 L457.1,348.7 L457.7,350.1 L458.4,343.3 L459.1,338.1 L459.6,335.7 L460.1,330.1 L460.8,331.5 L461.5,334.1 L462,331.8 L462.5,328.1 L463.1,332.4 L463.7,338.1 L464.4,345.8 L465.1,350.1 L465.6,342.3 L466.1,336.1 L466.8,331.7 L467.5,326.1 L468.3,322.4 L469.1,322.1 L469.8,320.8 L470.5,318.1 L471.3,314.4 L472.1,314.1 L472.8,314.6 L473.5,312.1 L474.1,313.4 L474.7,318.1 L475.4,323.9 L476.1,326.1 L476.8,327.8 L477.5,332.1 L478.1,334.7 L478.7,334.1 L479.4,330.5 L480.1,328.1 L480.8,323.7 L481.5,316.1 L482,309.8 L482.5,306 L483.1,311.6 L483.7,314.1 L484.2,307.3 L484.7,302 L485.4,298.6 L486.1,292 L486.8,286.2 L487.5,284 L488.1,281.7 L488.7,278 L489.2,273 L489.7,270 L490.2,268.8 L490.7,265 L491.2,261.3 L491.7,261 L492.3,260.9 L492.9,259 L493.4,260.2 L493.9,263 L494.7,272 L495.5,282 L496.1,286.9 L496.7,290 L497.4,291.6 L498.1,296 L498.8,299.6 L499.5,300 L500.1,295.9 L500.7,294 L501.4,292.1 L502.1,288 L502.6,284.9 L503.1,284 L503.8,290 L504.5,294 L505.1,297.9 L505.7,304 L506.4,306.7 L507.1,308.1 L507.6,302.8 L508.1,300 L508.6,299.9 L509.1,296 L509.8,299.9 L510.5,306 L511.1,313.6 L511.7,318.1 L512.4,320.3 L513.1,324.1 L513.8,323.6 L514.5,320.1 L515.1,314.5 L515.7,312.1 L516.4,311 L517.1,307 L517.8,304.2 L518.5,304 L519.1,303.2 L519.7,300 L520.4,301.6 L521.1,306 L521.9,312.8 L522.6,316.1 L523.2,311.3 L523.8,308.1 L524.5,304.7 L525.2,300 L525.9,299.9 L526.6,303 L527.2,306.3 L527.8,306 L528.5,301.7 L529.2,300 L529.7,304.7 L530.2,307 L530.7,300 L531.2,296 L531.7,301.3 L532.2,305 L532.8,297.6 L533.4,292 L533.9,298.3 L534.4,303 L534.9,295.7 L535.4,291 L535.9,296.5 L536.4,300 L537,294.1 L537.6,290 L538.4,296 L538.9,292.5 L539.4,286 L540,281.7 L540.6,281 L541.1,278.5 L541.6,274.1 L542.3,271.6 L543,272.1 L543.7,272.2 L544.4,270.1 L545.2,266.4 L546,266.1 L546.7,265.4 L547.4,262.1 L548.2,260.2 L549,260.1 L549.7,263 L550.4,264.1 L551,266.5 L551.6,270.1 L552.3,273.3 L553,274.1 L553.7,275 L554.4,278.1 L555,277.9 L555.6,276.1 L556.3,272.1 L557,270.1 L557.5,270.1 L558,268.1 L558.7,269.5 L559.4,274.1 L560,276.9 L560.6,278.1 L561.3,280.2 L562,286.1 L562.5,295.3 L563,302 L563.5,304.6 L564,310 L564.5,313.7 L565,315 L565.7,314.9 L566.4,318.1 L567,322.3 L567.6,323.1 L568.3,320.3 L569,320.1 L569.7,318.8 L570.4,315 L571,312 L571.6,312 L572.3,316.2 L573,317 L573.7,317.4 L574.4,320.1 L575,323.1 L575.6,323.1 L576.3,323.3 L577,327.1 L577.5,331.3 L578.1,333.1 L578.8,328.7 L579.5,326.1 L580.1,325 L580.7,322.1 L581.4,321.6 L582.1,324.1 L582.8,325.1 L583.5,323.1 L584.1,324.3 L584.7,329.1 L585.4,333.3 L586.1,334.1 L586.8,335.7 L587.5,339.1 L588.1,336.9 L588.7,333.1 L589.4,334.7 L590.1,338.1 L590.8,340.9 L591.5,342.1 L592.1,342.6 L592.7,346.1 L593.2,349.3 L593.7,349.1 L594.4,342.8 L595.1,340.1 L595.8,337.5 L596.5,333.1 L597.3,328.4 L598.1,327.1 L598.8,326.6 L599.5,324.1 L600.3,322 L601.1,322.1 L601.8,321.1 L602.5,317 L603.1,313.8 L603.7,312 L604.2,311.2 L604.7,309 L605.4,309.3 L606.1,313 L606.8,314.5 L607.5,314 L608.1,310.5 L608.7,309 L609.4,307.8 L610.1,304 L610.8,303.5 L611.5,306 L612.1,309.1 L612.7,311 L613.4,309.5 L614.1,310 L614.8,313.2 L615.5,314 L616.1,315.3 L616.7,319.1 L617.4,321.9 L618.1,323.1 L618.8,323.8 L619.5,327.1 L620.1,331.4 L620.7,332.1 L621.4,335 L622.1,340.1 L622.6,345.4 L623.1,348.1 L623.8,349.4 L624.5,352.1 L625.1,355.5 L625.7,357.1 L626.4,358.1 L627.1,362.1 L627.8,364.8 L628.5,366.1 L629.1,366.4 L629.7,370.1 L630.4,373.9 L631.1,374.1 L631.6,369.4 L632.1,366.1 L632.8,362.9 L633.5,356.1 L634.1,357 L634.7,360.1 L635.4,359.7 L636.1,356.1 L636.8,351.5 L637.5,350.1 L638.1,349.1 L638.7,346.1 L639.4,345.6 L640.1,348.1 L640.8,346.5 L641.5,342.1 L642.1,339.5 L642.7,340.1 L643.4,343 L644.1,344.1 L644.8,338.5 L645.5,336.1 L646.1,333.9 L646.7,328.1 L647.4,322.6 L648.1,320.1 L648.8,319.3 L649.5,316 L650.1,313.8 L650.7,313 L651.4,313.2 L652.1,311 L652.7,314.5 L653.2,320.1 L653.9,325.6 L654.6,328.1 L655.2,325.1 L655.8,325.1 L656.5,328.9 L657.2,330.1 L657.9,324.3 L658.6,320.1 L659.2,320 L659.8,317 L660.5,318.6 L661.2,323.1 L661.9,321.4 L662.6,318.1 L663.2,313.8 L663.8,313 L664.5,311.9 L665.2,308 L665.9,304.3 L666.6,302 L667.2,301.8 L667.8,298 L668.5,298.2 L669.2,300 L669.9,299 L670.6,296 L671.4,292.5 L672.2,292 L672.9,293.9 L673.6,293 L674.4,289.2 L675.2,288 L675.9,287.9 L676.6,285 L677.2,286.3 L677.8,290 L678.5,294 L679.2,296 L679.9,294.7 L680.6,295 L681.2,299.2 L681.8,302 L682.5,303.5 L683.2,308 L683.9,310.6 L684.6,310 L685.4,306.7 L686.2,306 L686.7,300.6 L687.2,292 L687.3,283.5 L688.2,269.7 L689.1,266.3 L689.7,267.8 L690.3,271.4 L691,274.1 L691.7,274.9 L692.3,273 L692.9,273.2 L693.6,276.2 L694.3,275.8 L694.9,278.2 L695.5,281.8 L696,284.8 L696.5,285.3 L697.1,285.7 L697.7,287.9 L698.6,281.8 L699.4,273.2 L700,273.9 L700.6,271.4 L701.3,271.3 L702,273.2 L702.6,277.7 L703.2,280.1 L703.9,283.3 L704.6,288.7 L705.2,292.6 L705.8,293.9 L706.5,294 L707.2,297.3 L708.1,304.3 L708.9,308.6 L709.8,304.3 L710.4,300.1 L711,293.9 L711.5,287 L712,283.5 L712.6,279.1 L713.3,273.2 L713.9,269.2 L714.5,267.1 L715.1,267 L715.8,265.4 L716.5,268.6 L717.1,273.2 L717.6,271.8 L718.1,267.1 L718.7,264.3 L719.3,264.5 L719.9,267.1 L720.5,268 L721.2,265 L721.9,263.7 L722.5,262.7 L723.1,259.4 L723.6,255.2 L724.1,254.2 L724.7,254.6 L725.3,251.6 L726.2,255"/>
</g>
<g fill="none" stroke-width="2.5" stroke-linecap="round">
<line x1="69.5" y1="92.6" x2="94.5" y2="92.6" stroke="#0d3a63"/>
<line x1="69.5" y1="124.6" x2="94.5" y2="124.6" stroke="#a6a6a6"/>
<line x1="69.5" y1="156.6" x2="94.5" y2="156.6" stroke="#a5cdee"/>
</g>
<g id="legend" letter-spacing="0" style="font-size:13px">
<text x="98" y="97.2">Soft : 1966, 1969, 1984, 1995, 2000</text>
<text x="98" y="129.2">Soft but ended up Hard : 1989, 2006, 2018</text>
<text x="98" y="160.8">Hard : 1974, 1980, 1981</text>
</g>
</svg>
<div class="src"><span id="t3">Source: Datastream, Goldman Sachs Global Investment Research</span></div>
</body>
</html>
